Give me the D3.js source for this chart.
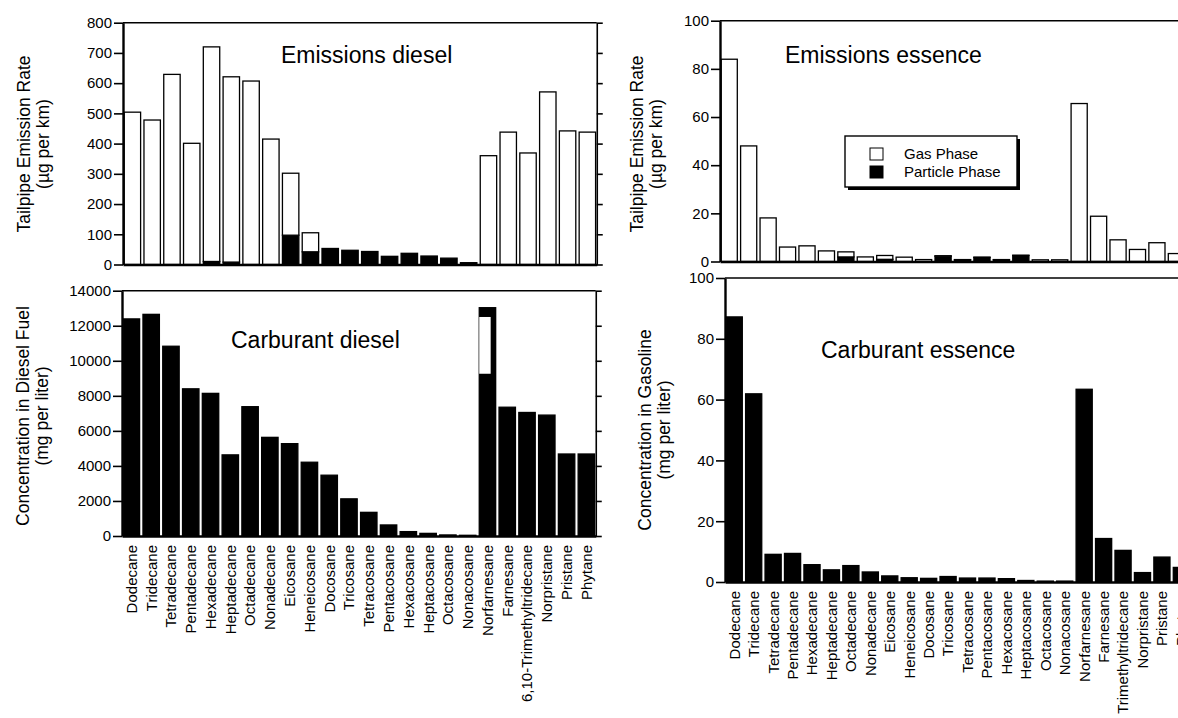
<!DOCTYPE html>
<html>
<head>
<meta charset="utf-8">
<script src="https://cdn.jsdelivr.net/npm/d3@7"></script>
<style>
  body { margin: 0; background: #fff; }
  svg text { font-family: "Liberation Sans", Arial, sans-serif; fill: #000; }
</style>
</head>
<body>
<script>
// categories, left block (diesel) and right block (gasoline)
const catsDiesel = ["Dodecane","Tridecane","Tetradecane","Pentadecane","Hexadecane","Heptadecane",
  "Octadecane","Nonadecane","Eicosane","Heneicosane","Docosane","Tricosane","Tetracosane",
  "Pentacosane","Hexacosane","Heptacosane","Octacosane","Nonacosane","Norfarnesane","Farnesane",
  "6,10-Trimethyltridecane","Norpristane","Pristane","Phytane"];
const catsGas = catsDiesel.map(d => d == "6,10-Trimethyltridecane" ? "Trimethyltridecane" : d);

// tailpipe emissions, diesel (ug per km)
const dieselGas      = [504,478,629,401,710,613,607,415,205,63,0,0,0,0,0,0,0,0,360,438,369,571,442,438];
const dieselParticle = [0,0,0,0,10,8,0,0,97,42,53,47,43,27,37,28,21,6,0,0,0,0,0,0];
// concentration in diesel fuel (mg per liter)
const dieselFuel = [12390,12650,10830,8400,8140,4630,7380,5630,5270,4210,3470,2120,1350,630,250,150,60,40,13030,7350,7050,6900,4680,4680];
const norfarnesaneGap = [9260, 12500];

// tailpipe emissions, gasoline (ug per km)
const essenceGas      = [84,48,18.1,6,6.5,4.4,2.1,1.9,1.6,1.8,0.8,0.2,0.1,0.1,0.1,0.1,0.7,0.7,65.6,18.8,9,5,7.8,3.3];
const essenceParticle = [0,0,0,0,0,0,1.9,0,0.9,0,0,2.2,0.7,1.7,0.7,2.5,0,0,0,0,0,0,0,0];
// concentration in gasoline (mg per liter)
const essenceFuel = [87.2,61.9,9.1,9.4,5.7,4,5.4,3.3,2,1.4,1.2,1.8,1.3,1.3,1.1,0.5,0.3,0.3,63.4,14.3,10.4,3.1,8.2,4.8];

const ticksEmDiesel = d3.range(0, 801, 100);
const ticksFuelDiesel = d3.range(0, 14001, 2000);
const ticksEssence = d3.range(0, 101, 20);

const svg = d3.select("body").append("svg")
  .attr("width", 1178).attr("height", 718);

function panel(o) {
  const n = o.cats.length;
  const x = d3.scaleBand().domain(o.cats)
    .range([o.x0, o.x0 + n * o.step])
    .paddingInner(0.17).paddingOuter(0.06);
  const y = d3.scaleLinear().domain([0, o.max]).range([o.y0, o.yTop]);
  const g = svg.append("g");

  // bars, stacked particle then gas
  const rows = o.cats.map((c, i) => ({cat: c, particle: o.particle ? o.particle[i] : 0, gas: o.gas[i]}));
  const stack = d3.stack().keys(["particle", "gas"])(rows);
  g.selectAll("g.layer").data(stack).join("g")
    .attr("fill", d => d.key == "particle" || o.solid ? "#000" : "#fff")
    .attr("stroke", "#000").attr("stroke-width", 1.3)
    .selectAll("rect").data(d => d.filter(s => s[1] > s[0]))
    .join("rect")
      .attr("x", d => x(d.data.cat))
      .attr("width", x.bandwidth())
      .attr("y", d => y(d[1]))
      .attr("height", d => y(d[0]) - y(d[1]));

  // top border
  g.append("line").attr("x1", o.x0).attr("x2", o.x0 + n * o.step)
    .attr("y1", o.yTop).attr("y2", o.yTop)
    .attr("stroke", "#000").attr("stroke-width", 1.6);

  // left axis
  const ax = g.append("g").attr("transform", `translate(${o.x0},0)`)
    .call(d3.axisLeft(y).tickValues(o.ticks).tickSize(9).tickSizeOuter(0).tickPadding(2)
      .tickFormat(d3.format("d")));
  ax.select(".domain").attr("stroke-width", 2.4);
  ax.selectAll(".tick line").attr("stroke-width", 1.6);
  ax.selectAll("text").style("font-size", "15px");

  if (o.rightAxis) {
    const ar = g.append("g").attr("transform", `translate(${o.x0 + n * o.step},0)`)
      .call(d3.axisRight(y).tickValues(o.ticks).tickSize(6).tickSizeOuter(0).tickFormat(""));
    ar.select(".domain").attr("stroke-width", 1.6);
    ar.selectAll(".tick line").attr("stroke-width", 1.6);
  }

  // baseline + category labels
  const bx = g.append("g").attr("transform", `translate(0,${o.y0})`)
    .call(d3.axisBottom(x).tickSize(0).tickSizeOuter(0).tickFormat(o.labels ? d => d : ""));
  bx.select(".domain").attr("stroke-width", 2.6);
  bx.selectAll("text")
    .attr("transform", "rotate(-90)")
    .attr("text-anchor", "end")
    .attr("x", -9).attr("y", 0).attr("dy", "0.36em")
    .style("font-size", "15px");

  // axis title
  const t = g.append("text").attr("text-anchor", "middle")
    .attr("transform", `translate(${o.titleX},${o.titleY}) rotate(-90)`)
    .style("font-size", "17.5px");
  t.append("tspan").attr("x", 0).attr("y", 0).text(o.yTitle[0]);
  t.append("tspan").attr("x", 0).attr("y", 19).text(o.yTitle[1]);

  g.append("text").attr("x", o.nameX).attr("y", o.nameY)
    .style("font-size", "23px").text(o.name);

  return {x, y, g};
}

panel({cats: catsDiesel, gas: dieselGas, particle: dieselParticle, max: 800, ticks: ticksEmDiesel,
  x0: 123, step: 19.74, yTop: 22.7, y0: 264.5, rightAxis: true, labels: false,
  yTitle: ["Tailpipe Emission Rate", "(\u00b5g per km)"], titleX: 30, titleY: 144,
  name: "Emissions diesel", nameX: 281, nameY: 63});

const bl = panel({cats: catsDiesel, gas: dieselFuel, max: 14000, ticks: ticksFuelDiesel, solid: true,
  x0: 122, step: 19.74, yTop: 290.7, y0: 536, rightAxis: true, labels: true,
  yTitle: ["Concentration in Diesel Fuel", "(mg per liter)"], titleX: 29, titleY: 416,
  name: "Carburant diesel", nameX: 231, nameY: 348});

// white notch in the Norfarnesane bar
bl.g.append("rect")
  .attr("x", bl.x("Norfarnesane"))
  .attr("width", bl.x.bandwidth() - 5)
  .attr("y", bl.y(norfarnesaneGap[1]))
  .attr("height", bl.y(norfarnesaneGap[0]) - bl.y(norfarnesaneGap[1]))
  .attr("fill", "#fff");

panel({cats: catsGas, gas: essenceGas, particle: essenceParticle, max: 100, ticks: ticksEssence,
  x0: 720, step: 19.4, yTop: 20.7, y0: 261.5, rightAxis: false, labels: false,
  yTitle: ["Tailpipe Emission Rate", "(\u00b5g per km)"], titleX: 643, titleY: 144,
  name: "Emissions essence", nameX: 785, nameY: 63});

panel({cats: catsGas, gas: essenceFuel, max: 100, ticks: ticksEssence, solid: true,
  x0: 725, step: 19.4, yTop: 278, y0: 582, rightAxis: false, labels: true,
  yTitle: ["Concentration in Gasoline", "(mg per liter)"], titleX: 651, titleY: 430,
  name: "Carburant essence", nameX: 821, nameY: 358});

// legend
const lg = svg.append("g").attr("transform", "translate(845,136)");
lg.append("rect").attr("x", 3).attr("y", 3).attr("width", 172).attr("height", 51).attr("fill", "#000");
lg.append("rect").attr("width", 172).attr("height", 51).attr("fill", "#fff")
  .attr("stroke", "#000").attr("stroke-width", 1.4);
const legendItems = ["Gas Phase", "Particle Phase"];
legendItems.forEach((d, i) => {
  lg.append("rect").attr("x", 25).attr("y", 12 + i * 18).attr("width", 13).attr("height", 12)
    .attr("fill", i ? "#000" : "#fff").attr("stroke", "#000").attr("stroke-width", 1);
  lg.append("text").attr("x", 59).attr("y", 23 + i * 18).style("font-size", "15px").text(d);
});
</script>
</body>
</html>
